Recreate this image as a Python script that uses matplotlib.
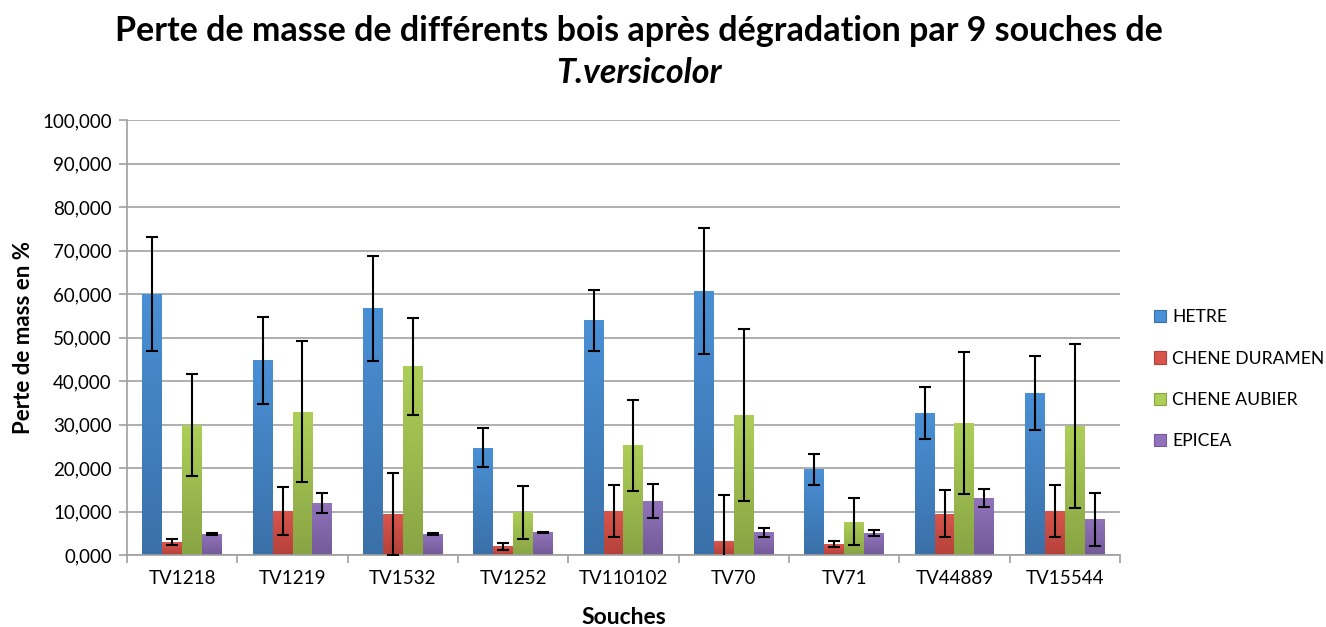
import numpy as np
import matplotlib
matplotlib.use("Agg")
import matplotlib.pyplot as plt
from matplotlib.colors import LinearSegmentedColormap

plt.rcParams["font.family"] = ["Lato", "DejaVu Sans"]

souches = ["TV1218", "TV1219", "TV1532", "TV1252", "TV110102",
           "TV70", "TV71", "TV44889", "TV15544"]

hetre = [60.0, 44.8, 56.7, 24.7, 54.0, 60.7, 19.7, 32.6, 37.2]
hetre_err = [13.0, 10.0, 12.0, 4.5, 7.0, 14.5, 3.5, 6.0, 8.5]

chene_duramen = [2.9, 10.1, 9.4, 2.0, 10.1, 3.2, 2.5, 9.5, 10.1]
chene_duramen_err = [0.7, 5.6, 9.5, 0.85, 6.0, 10.5, 0.65, 5.4, 5.9]

chene_aubier = [29.9, 32.9, 43.4, 9.8, 25.2, 32.2, 7.7, 30.3, 29.6]
chene_aubier_err = [11.8, 16.2, 11.2, 6.1, 10.4, 19.7, 5.4, 16.3, 18.9]

epicea = [4.8, 11.9, 4.8, 5.2, 12.4, 5.2, 5.0, 13.1, 8.2]
epicea_err = [0.3, 2.3, 0.3, 0.2, 4.0, 1.0, 0.7, 2.0, 6.1]

series = [
    ("HETRE", hetre, hetre_err, "#4a90d6", "#3a70a8"),
    ("CHENE DURAMEN", chene_duramen, chene_duramen_err, "#d9554c", "#b3413a"),
    ("CHENE AUBIER", chene_aubier, chene_aubier_err, "#adcf58", "#88a444"),
    ("EPICEA", epicea, epicea_err, "#9173bb", "#735a98"),
]


def shade_bars(ax, bars, top, bottom):
    # vertical gradient inside each bar, lighter at the top
    grad = np.linspace(0, 1, 256).reshape(-1, 1)
    cmap = LinearSegmentedColormap.from_list("shade", [bottom, top])
    for b in bars:
        x, y = b.get_x(), b.get_y()
        w, h = b.get_width(), b.get_height()
        im = ax.imshow(grad, cmap=cmap, extent=(x, x + w, y, y + h),
                       origin="lower", aspect="auto", zorder=2,
                       interpolation="bilinear")
        im.set_clip_path(b)
        b.set_facecolor("none")


fig = plt.figure(figsize=(13.26, 6.27), dpi=100)
ax = fig.add_axes([0.0958, 0.1148, 0.7488, 0.6938])

x = np.arange(len(souches))
width = 0.18
handles = []
for k, (name, vals, errs, top, bottom) in enumerate(series):
    pos = x + (k - 1.5) * width
    bars = ax.bar(pos, vals, width, color=top, label=name, zorder=2,
                  linewidth=0)
    shade_bars(ax, bars, top, bottom)
    ax.errorbar(pos, vals, yerr=errs, fmt="none", ecolor="black",
                elinewidth=1.5, capsize=4.5, capthick=1.5, zorder=4)
    handles.append(plt.Rectangle((0, 0), 1, 1, facecolor=top,
                                 edgecolor=bottom, linewidth=0.8))

ax.set_xlim(-0.5, len(souches) - 0.5)
ax.set_ylim(0, 100)
ax.set_yticks(np.arange(0, 101, 10))
ax.set_yticklabels([f"{v:d},000" for v in range(0, 101, 10)])
ax.yaxis.grid(True, color="#a8a8a8", linewidth=1.3)
ax.set_axisbelow(True)

ax.set_xticks(x)
ax.set_xticklabels(souches)
ax.set_xticks(np.arange(-0.5, len(souches)), minor=True)
ax.tick_params(axis="x", which="major", length=0, pad=11, labelsize=13.5)
ax.tick_params(axis="x", which="minor", length=6, color="#a0a0a0", width=1.2)
ax.tick_params(axis="y", length=6, color="#a0a0a0", width=1.2, labelsize=13.5,
               pad=5)

for side in ("top", "right"):
    ax.spines[side].set_visible(False)
for side in ("left", "bottom"):
    ax.spines[side].set_color("#a0a0a0")
    ax.spines[side].set_linewidth(1.2)

ax.set_xlabel("Souches", fontsize=16.5, fontweight="bold", labelpad=14)
ax.set_ylabel("Perte de mass en %", fontsize=16, fontweight="bold",
              labelpad=6)

fig.text(0.482, 0.950, "Perte de masse de différents bois après dégradation par 9 souches de",
         ha="center", va="center", fontsize=24.5, fontweight="bold")
fig.text(0.482, 0.884, "T.versicolor", ha="center", va="center",
         fontsize=24.5, fontweight="bold", style="italic")

fig.legend(handles, [s[0] for s in series], loc="center left",
           bbox_to_anchor=(0.870, 0.395), frameon=False, fontsize=12.6,
           handlelength=0.7, handleheight=0.7, handletextpad=0.35,
           labelspacing=1.45, borderpad=0, borderaxespad=0)

fig.savefig("out.png", dpi=100)
